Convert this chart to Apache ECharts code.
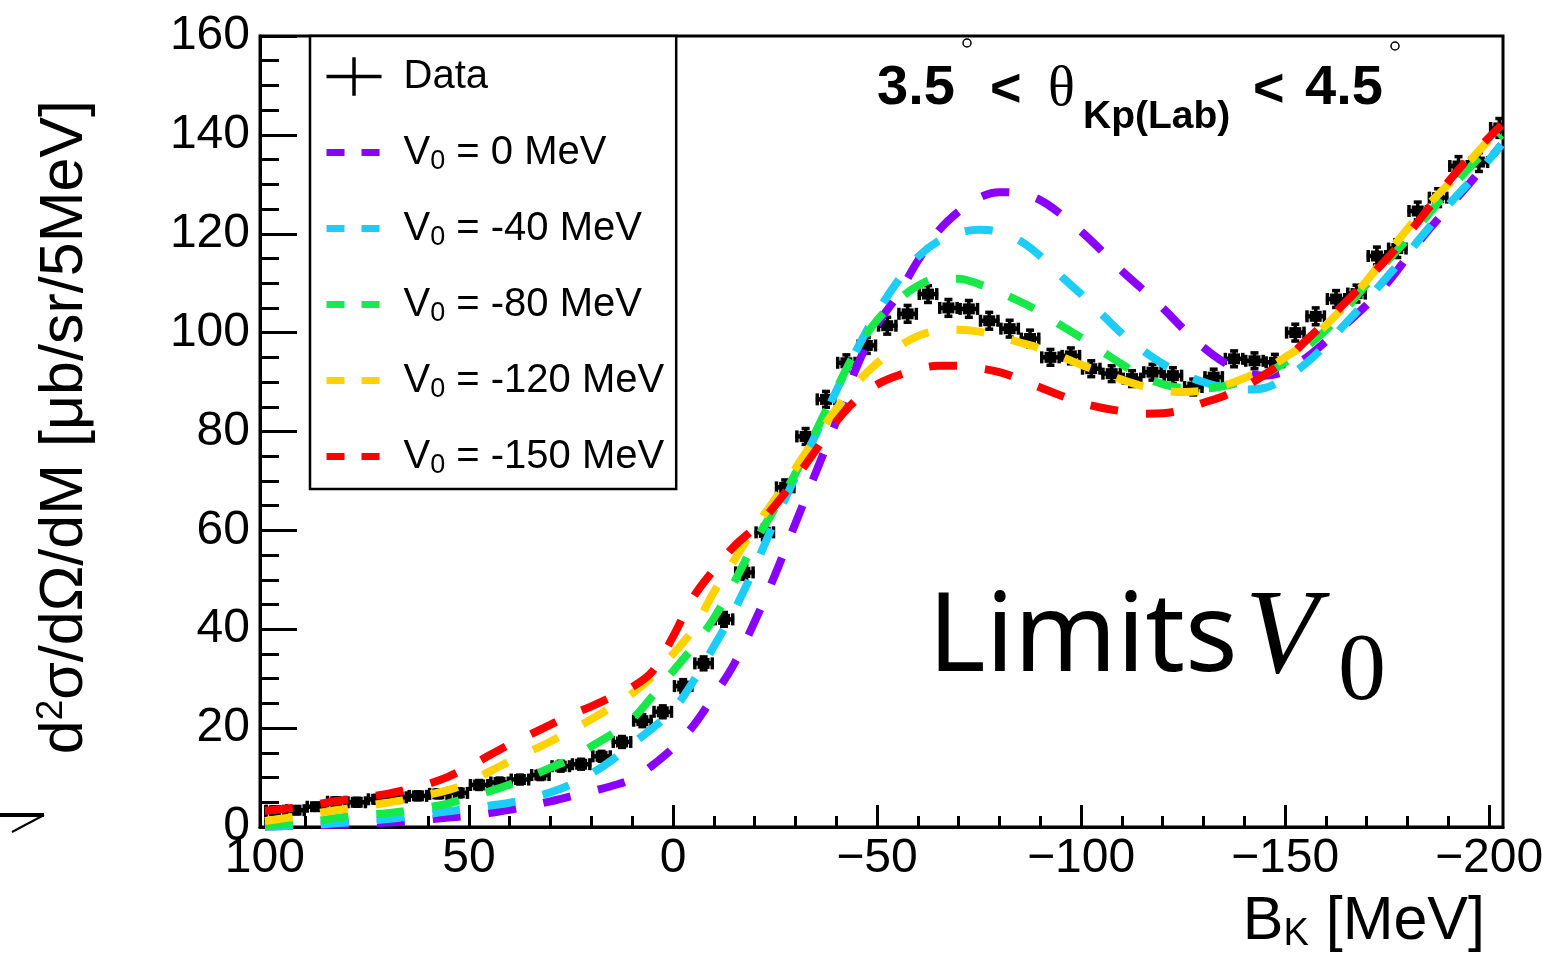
<!DOCTYPE html>
<html><head><meta charset="utf-8">
<script src="https://cdn.jsdelivr.net/npm/echarts@6/dist/echarts.min.js"></script>
<style>html,body{margin:0;padding:0;background:#fff;}#c{width:1542px;height:962px;}</style>
</head><body><div id="c"></div>
<script>
const FONT = '"Liberation Sans", Arial, Helvetica, sans-serif';
// ---- data (bin centres in MeV, 5 MeV bins) ----
const binCenters = [97.5,92.5,87.5,82.5,77.5,72.5,67.5,62.5,57.5,52.5,47.5,42.5,37.5,32.5,27.5,22.5,17.5,12.5,7.5,2.5,
  -2.5,-7.5,-12.5,-17.5,-22.5,-27.5,-32.5,-37.5,-42.5,-47.5,-52.5,-57.5,-62.5,-67.5,-72.5,-77.5,-82.5,-87.5,-92.5,-97.5,
  -102.5,-107.5,-112.5,-117.5,-122.5,-127.5,-132.5,-137.5,-142.5,-147.5,-152.5,-157.5,-162.5,-167.5,-172.5,-177.5,-182.5,-187.5,-192.5,-197.5,-202.5];
const dataValues = [3.3,3.4,4.1,5.1,5.0,5.6,6.0,6.3,6.7,6.9,8.5,9.0,9.6,10.5,12.3,12.7,14.3,17.2,21.5,23.3,
  28.5,33.1,42.0,51.5,59.6,68.7,79.0,86.5,93.9,97.4,101.4,103.8,107.8,105.0,104.8,102.4,100.8,98.8,95.0,95.3,
  92.7,91.7,90.7,92.0,91.3,89.0,91.0,94.7,94.3,94.0,100.0,103.3,106.8,107.9,115.5,117.0,124.6,127.3,133.7,134.5,141.4];
const dataErrors = [0.5,0.5,0.5,0.6,0.6,0.6,0.6,0.6,0.6,0.6,0.7,0.7,0.7,0.7,0.8,0.8,0.8,0.9,1.0,1.0,
  1.1,1.1,1.2,1.2,1.3,1.3,1.4,1.4,1.4,1.4,1.5,1.5,1.5,1.5,1.5,1.5,1.5,1.5,1.4,1.4,
  1.4,1.4,1.4,1.4,1.4,1.4,1.4,1.4,1.4,1.4,1.5,1.5,1.5,1.5,1.6,1.6,1.6,1.6,1.7,1.7,1.7];
// ---- model curves ----
const curveX = [100,95,90,85,80,75,70,65,60,55,50,45,40,35,30,25,20,15,10,5,0,-5,-10,-15,-20,-25,-30,-35,-40,-45,
  -50,-55,-60,-65,-70,-75,-80,-85,-90,-95,-100,-105,-110,-115,-120,-125,-130,-135,-140,-145,-150,-155,-160,-165,-170,
  -175,-180,-185,-190,-195,-200,-203];
const curveV0_0 = [0.1,0.2,0.3,0.4,0.5, 0.7,0.9,1.1,1.5,1.9, 2.3,2.8,3.5,4.3,5.2, 6.2,7.2,8.3,9.7,12.5,
  16,20.5,26.5,33,41.5, 51,61.4,71.7,82,93, 101.5,107.5,114.5,120.5,124.5, 127.3,128.4,128.2,126.8,124,
  120.5,116.6,112.5,108.8,105, 100.8,97,94,92,91.3, 92.2,94.8,98.2,101.8,105.6, 110,115.3,120.6,125.3,130, 135,138];
const curveV0_40 = [0.1,0.2,0.4,0.6,0.9, 1.2,1.6,2.1,2.6,3.2, 3.7,4.3,4.9,5.8,7.0, 8.6,10.8,13.5,16.8,20,
  23.6,29.5,36.5,43.8,52.5, 62,70.8,79.4,88.2,96.5, 104,110.3,115.3,118.5,120.2, 120.8,120.4,118.6,115.5,111.5,
  107.8,103.8,99.8,96.5,93.7, 91.6,90,88.9,88.5,88.8, 90.8,93.7,97.6,102,106.5, 111.3,116,121,125.8,130.3, 135,138];
const curveV0_80 = [0.3,0.6,0.9,1.5,2.1, 2.5,2.8,3.3,4.0,4.8, 6.0,7.2,8.6,10.2,12.0, 13.8,16.3,18.8,21.8,26.5,
  31.5,36.5,42.2,49.5,57.5, 64.5,71.5,80,88.5,96.5, 102.5,106.5,109.5,110.9,110.9, 109.8,108.2,106.3,104.2,101.5,
  99,96.3,93.6,91.2,89.6, 88.8,88.7,89.2,90.2,91.6, 94,97,100.5,104.9,109.8, 114.4,119,123.8,128.8,133.2, 137.5,140];
const curveV0_120 = [1.2,1.8,2.4,3.1,3.7, 4.3,4.9,5.6,6.5,7.5, 9.0,11.2,13.3,15.3,17.3, 19.5,21.8,24.3,27,30.5,
  35,40,47.5,54,60.5, 66.3,72.5,78.8,84.5,89.8, 93.8,97,99.3,100.4,100.6, 100.2,99.2,98,96.8,95.2,
  93.5,92,90.5,89.2,88.3, 88,88.3,89.3,90.8,92.6, 95,97.8,101.5,105.8,110.5, 115.8,121,125.8,130,134.5, 139,141.5];
const curveV0_150 = [3.3,3.7,4.2,4.9,5.5, 6.1,6.7,7.6,8.7,10.2, 12.2,14.5,16.7,18.7,20.7, 22.7,24.4,26.3,28.3,31.5,
  38.5,46.5,52,56.8,60.5, 65,70.5,76.2,82,86.5, 89.5,91.3,92.6,93.3,93.3, 92.8,92,90.6,88.9,87.3,
  85.8,84.8,84.1,83.6,83.7, 84.4,85.8,87.2,89,91.5, 94.5,98.3,102.2,106.3,110.6, 115,119.8,125,130.5,135.3, 139.5,142];
const curveNames = ['V0 = 0 MeV','V0 = -40 MeV','V0 = -80 MeV','V0 = -120 MeV','V0 = -150 MeV'];
const curveColors = ['#8a00ff','#1ccdf7','#18e84a','#ffd200','#ff0000'];
const curveValues = [curveV0_0, curveV0_40, curveV0_80, curveV0_120, curveV0_150];
// ---- axes ----
const xMajorTicks = [100,50,0,-50,-100,-150,-200];
const xMinorTicks = [100,90,80,70,60,50,40,30,20,10,0,-10,-20,-30,-40,-50,-60,-70,-80,-90,-100,-110,-120,-130,-140,-150,-160,-170,-180,-190,-200];
const xMin = -203.4, xMax = 101.2;

const chart = echarts.init(document.getElementById('c'), null, {renderer:'canvas'});
const pts = binCenters.map((b,i)=>[b, dataValues[i], dataErrors[i]]);
const series = [{
  name:'Data', type:'custom', clip:true, itemStyle:{color:'#000'},
  data: pts,
  renderItem: function(params, api){
    const x = api.value(0), y = api.value(1), e = api.value(2);
    const pc = api.coord([x,y]);
    const pl = api.coord([x+2.5,y]);
    const pr = api.coord([x-2.5,y]);
    const pt = api.coord([x,y+e]);
    const pb = api.coord([x,y-e]);
    const st = {stroke:'#000', lineWidth:3.5, fill:null};
    return {type:'group', children:[
      {type:'line', shape:{x1:pl[0],y1:pc[1],x2:pr[0],y2:pc[1]}, style:{stroke:'#000', lineWidth:4.5}},
      {type:'line', shape:{x1:pl[0]+1.5,y1:pc[1]-6,x2:pl[0]+1.5,y2:pc[1]+6}, style:st},
      {type:'line', shape:{x1:pr[0]-1.5,y1:pc[1]-6,x2:pr[0]-1.5,y2:pc[1]+6}, style:st},
      {type:'line', shape:{x1:pc[0],y1:pt[1]-1,x2:pc[0],y2:pb[1]+1}, style:st},
      {type:'line', shape:{x1:pc[0]-4,y1:pt[1]-1,x2:pc[0]+4,y2:pt[1]-1}, style:st},
      {type:'line', shape:{x1:pc[0]-4,y1:pb[1]+1,x2:pc[0]+4,y2:pb[1]+1}, style:st},
      {type:'rect', shape:{x:pc[0]-6,y:pc[1]-5.5,width:12,height:11}, style:{fill:'#000'}}
    ]};
  }
}];
curveNames.forEach((n,k)=>{
  series.push({name:n, type:'line', smooth:0.35, symbol:'none', showSymbol:false, clip:true,
    data: curveX.map((x,i)=>[x, curveValues[k][i]]),
    lineStyle:{color:curveColors[k], width:8, type:[28,28], cap:'butt'},
    itemStyle:{color:curveColors[k]}});
});

const minus = v => String(v).replace('-', '\u2212');
const option = {
  animation:false,
  backgroundColor:'#fff',
  grid:{left:260, right:39, top:36, bottom:135, show:true, borderColor:'#000', borderWidth:3, backgroundColor:'transparent',
        containLabel:false, outerBoundsMode:'none'},
  xAxis:[{
    type:'value', inverse:true, min:xMin, max:xMax, position:'bottom',
    axisLine:{show:true, onZero:false, lineStyle:{color:'#000', width:3}},
    axisTick:{show:true, inside:true, length:22, customValues:xMajorTicks, lineStyle:{color:'#000', width:3}},
    axisLabel:{show:true, customValues:xMajorTicks, fontSize:48, color:'#000', fontFamily:FONT, margin:8, formatter:minus, hideOverlap:false},
    splitLine:{show:false}
  },{
    type:'value', inverse:true, min:xMin, max:xMax, position:'bottom',
    axisLine:{show:false, onZero:false},
    axisTick:{show:true, inside:true, length:11, customValues:xMinorTicks, lineStyle:{color:'#000', width:3}},
    axisLabel:{show:false}, splitLine:{show:false}
  }],
  yAxis:{
    type:'value', min:0, max:160, interval:20,
    axisLine:{show:true, onZero:false, lineStyle:{color:'#000', width:3}},
    axisTick:{show:true, inside:true, length:37, lineStyle:{color:'#000', width:3}},
    minorTick:{show:true, splitNumber:4, length:19, lineStyle:{color:'#000', width:3}},
    axisLabel:{fontSize:48, color:'#000', fontFamily:FONT, margin:10},
    splitLine:{show:false}
  },
  legend:{
    orient:'vertical', left:310, top:36, align:'left',
    padding:[18,12,10,13], itemGap:31, itemWidth:55, itemHeight:45,
    borderColor:'#000', borderWidth:2.5, backgroundColor:'#fff',
    lineStyle:{type:[18,17], width:7},
    textStyle:{fontSize:40, color:'#000', fontFamily:FONT, lineHeight:45,
      rich:{sp:{width:17}, sub:{fontSize:27, fontFamily:FONT, verticalAlign:'bottom', lineHeight:18, color:'#000'}}},
    formatter: name => name === 'Data' ? '{sp| }Data' : '{sp| }' + name.replace(/^V0/, 'V{sub|0}'),
    data:[{name:'Data', icon:'path://M0,20.5L64,20.5L64,24.5L0,24.5Z M30,0L34,0L34,45L30,45Z', itemStyle:{color:'#000'}}]
      .concat(curveNames.map(n=>({name:n, itemStyle:{opacity:0}})))
  },
  graphic:[
    {type:'text', x:65, y:100, rotation:Math.PI/2, style:{text:'d{sup|2}σ/dΩ/dM [μb/sr/5MeV]', align:'right', verticalAlign:'middle',
      fontSize:61, fontFamily:FONT, fill:'#000', lineHeight:64, rich:{sup:{fontSize:37, fontFamily:FONT, verticalAlign:'top', lineHeight:36}}}},
    {type:'text', x:1485, y:922, style:{text:'B{s|K} [MeV]', align:'right', verticalAlign:'middle', fontSize:61, fontFamily:FONT, fill:'#000', lineHeight:64,
      rich:{s:{fontSize:38, fontFamily:FONT, verticalAlign:'bottom', lineHeight:22}}}},
    {type:'text', x:877, y:89, style:{text:'3.5', fontSize:56, fontWeight:'bold', fontFamily:FONT, fill:'#000', verticalAlign:'middle'}},
    {type:'text', x:990, y:91, style:{text:'<', fontSize:54, fontWeight:'bold', fontFamily:FONT, fill:'#000', verticalAlign:'middle'}},
    {type:'text', x:1048, y:90, style:{text:'θ', fontSize:56, fontFamily:'"Liberation Serif", serif', fill:'#000', verticalAlign:'middle'}},
    {type:'text', x:1083, y:117, style:{text:'Kp(Lab)', fontSize:39, fontWeight:'bold', fontFamily:FONT, fill:'#000', verticalAlign:'middle'}},
    {type:'text', x:1253, y:91, style:{text:'<', fontSize:54, fontWeight:'bold', fontFamily:FONT, fill:'#000', verticalAlign:'middle'}},
    {type:'text', x:1305, y:89, style:{text:'4.5', fontSize:56, fontWeight:'bold', fontFamily:FONT, fill:'#000', verticalAlign:'middle'}},
    {type:'circle', shape:{cx:967, cy:43, r:4}, style:{fill:'#fff', stroke:'#000', lineWidth:1.5}, z:100},
    {type:'circle', shape:{cx:1395, cy:46, r:4}, style:{fill:'#fff', stroke:'#000', lineWidth:1.5}, z:100},
    {type:'text', x:928, y:640, style:{text:'Limits', fontSize:110, fontFamily:'"Noto Sans", sans-serif', fill:'#000', verticalAlign:'middle'}},
    {type:'text', x:1245, y:640, style:{text:'V', fontSize:120, fontStyle:'italic', fontFamily:'"Liberation Serif", serif', fill:'#000', verticalAlign:'middle'}},
    {type:'text', x:1338, y:674, style:{text:'0', fontSize:96, fontFamily:'"Liberation Serif", serif', fill:'#000', verticalAlign:'middle'}},
    {type:'line', shape:{x1:0, y1:815, x2:44, y2:815}, style:{stroke:'#000', lineWidth:4}},
    {type:'line', shape:{x1:44, y1:815, x2:12, y2:832}, style:{stroke:'#000', lineWidth:2}}
  ],
  series: series
};
chart.setOption(option);
</script>
</body></html>
